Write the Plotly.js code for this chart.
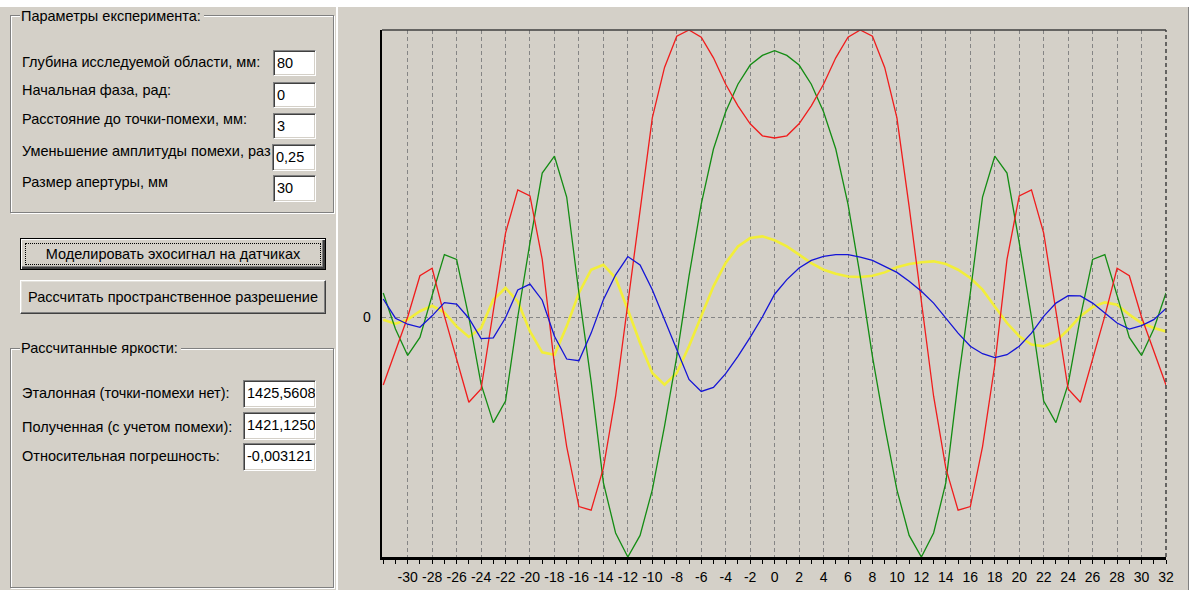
<!DOCTYPE html>
<html>
<head>
<meta charset="utf-8">
<script src="https://cdn.plot.ly/plotly-3.0.1.min.js"></script>
<style>
  html, body { margin: 0; padding: 0; }
  body { width: 1192px; height: 590px; background: #ffffff; position: relative; overflow: hidden;
         font-family: "Liberation Sans", Arial, sans-serif; font-size: 14.5px; color: #000; }
  .panel { position: absolute; background: #d4d0c8; }
  .abs { position: absolute; white-space: nowrap; line-height: 16px; }
  .group { position: absolute; border: 1px solid #808080; box-shadow: 1px 1px 0 #ffffff, inset 1px 1px 0 #ffffff; }
  .gtitle { position: absolute; background: #d4d0c8; padding: 0 3px 0 1px; line-height: 16px; white-space: nowrap; }
  .edit { position: absolute; background: #ffffff; box-sizing: border-box; border: 1px solid;
          border-color: #808080 #ffffff #ffffff #808080; box-shadow: inset 1px 1px 0 #404040, inset -1px -1px 0 #d4d0c8;
          padding: 4px 0 0 3px; line-height: 16px; white-space: nowrap; overflow: hidden; }
  .btn { position: absolute; box-sizing: border-box; background: #d4d0c8; border: 1px solid;
         border-color: #ffffff #404040 #404040 #ffffff; box-shadow: inset -1px -1px 0 #808080, inset 1px 1px 0 #e4e2dc;
         text-align: center; white-space: nowrap; }
  .btn.def { border: 1px solid #000; box-shadow: inset 1px 1px 0 #ffffff, inset -2px -2px 0 #404040, inset -3px -3px 0 #808080; }
  .focus { position: absolute; left: 4px; top: 4px; right: 4px; bottom: 4px; border: 1px dotted #000; }
</style>
</head>
<body>
<div class="panel" style="left:0; top:7px; width:336px; height:583px;"></div>
<div class="panel" style="left:338px; top:7px; width:850px; height:583px;"></div>
<div style="position:absolute; left:336px; top:7px; width:1px; height:583px; background:#ffffff;"></div>
<div style="position:absolute; left:1188px; top:7px; width:1px; height:583px; background:#808080;"></div>

<!-- experiment parameters -->
<div class="group" style="left:10px; top:15px; width:322px; height:196px;"></div>
<div class="gtitle" style="left:20px; top:8px;">Параметры експеримента:</div>
<div class="abs" style="left:22px; top:54px;">Глубина исследуемой области, мм:</div>
<div class="abs" style="left:22px; top:82px;">Начальная фаза, рад:</div>
<div class="abs" style="left:22px; top:111px;">Расстояние до точки-помехи, мм:</div>
<div class="abs" style="left:22px; top:143px;">Уменьшение амплитуды помехи, раз</div>
<div class="abs" style="left:22px; top:174px;">Размер апертуры, мм</div>
<div class="edit" style="left:273px; top:50px; width:43px; height:26px;">80</div>
<div class="edit" style="left:273px; top:82px; width:43px; height:26px;">0</div>
<div class="edit" style="left:273px; top:113px; width:43px; height:26px;">3</div>
<div class="edit" style="left:272px; top:144px; width:44px; height:27px;">0,25</div>
<div class="edit" style="left:273px; top:175px; width:43px; height:27px;">30</div>

<!-- commands -->
<div class="btn def" style="left:20px; top:238px; width:306px; height:32px; line-height:30px;"><div class="focus"></div>Моделировать эхосигнал на датчиках</div>
<div class="btn" style="left:20px; top:280px; width:306px; height:34px; line-height:32px;">Рассчитать пространственное разрешение</div>

<!-- computed brightness -->
<div class="group" style="left:10px; top:348px; width:322px; height:238px;"></div>
<div class="gtitle" style="left:20px; top:340px;">Рассчитанные яркости:</div>
<div class="abs" style="left:22px; top:385px;">Эталонная (точки-помехи нет):</div>
<div class="abs" style="left:22px; top:419px;">Полученная (с учетом помехи):</div>
<div class="abs" style="left:22px; top:448px;">Относительная погрешность:</div>
<div class="edit" style="left:243px; top:380px; width:73px; height:28px;">1425,5608</div>
<div class="edit" style="left:243px; top:412px; width:73px; height:28px;">1421,1250</div>
<div class="edit" style="left:243px; top:443px; width:73px; height:28px;">-0,003121</div>

<div id="chart" style="position:absolute; left:340px; top:7px; width:848px; height:583px;"></div>

<script>
// Sensor positions, mm
const sensorX = [-32,-31,-30,-29,-28,-27,-26,-25,-24,-23,-22,-21,-20,-19,-18,-17,-16,-15,-14,-13,-12,-11,-10,-9,-8,-7,-6,-5,-4,-3,-2,-1,
                 0,1,2,3,4,5,6,7,8,9,10,11,12,13,14,15,16,17,18,19,20,21,22,23,24,25,26,27,28,29,30,31,32];

// Echo signal components at each sensor (relative amplitude)
const redSignal = [-28.3,-14,0,17.2,20.3,0.5,-18,-35.5,-30,3,35,53,50.5,24,-20,-54,-79,-80.5,-63,-33,6,46,83,104,117,119.6,116.6,108,97,88,80.5,75.5,
                   74.6,75.5,80.5,88,97,108,116.6,119.6,117,104,83,46,6,-33,-63,-80.5,-79,-54,-20,24,50.5,53,35,3,-30,-35.5,-18,0.5,20.3,17.2,0,-14,-28.3];
const greenSignal = [10,-5,-16,-8.5,9,26,24,0,-28,-44,-35,0,31,60,67,50,10,-27,-69,-90,-100,-91,-72,-45.5,-16.5,17,47,70,85.5,97,105,109,
                     111,109,105,97,85.5,70,47,17,-16.5,-45.5,-72,-91,-100,-90,-69,-27,10,50,67,60,31,0,-35,-44,-28,0,24,26,9,-8.5,-16,-5,10];
const blueSignal = [7.5,-0.5,-3,-4.3,0.5,6,5.4,-0.5,-9,-8.7,-0.3,11.3,13.7,7,-8,-17.5,-18.2,-6.7,7.2,17.6,25.2,21.7,11.4,-1.1,-14.3,-26,-31,-29.3,-23.6,-16.4,-8.5,0,
                    9.5,15.6,20.4,23.6,25.3,26,26,25,23.6,21.1,18.6,14.9,10.7,5.8,-0.4,-6.7,-12.2,-15.3,-16.9,-15.7,-12.2,-6.7,0.3,5.8,8.9,8.8,5.8,1.7,-2.5,-5,-3.6,-1.1,3.6];
const yellowSignal = [-1.1,-2.8,-1.1,2.4,4.7,1.9,-3.9,-8.3,-4.6,7.2,12.1,6.5,-6,-14.7,-15.7,-3.9,10,19.7,21.8,16.25,3,-10.8,-23.3,-28.2,-23.3,-12.2,0.3,12.8,22.5,29.4,32.9,33.6,
                      32,29.4,26,22.5,19.7,18,16.9,16.7,17.2,18.6,20.7,22.1,22.8,23.2,22.1,19.7,16.25,11.4,4.4,-2.5,-8,-11.5,-12.2,-10.1,-5.3,0.3,4.2,6.1,5.1,1,-2.5,-4.6,-6];

// Axis tick labels (plain hyphen as the minus sign)
const xTickVals = [-30,-28,-26,-24,-22,-20,-18,-16,-14,-12,-10,-8,-6,-4,-2,0,2,4,6,8,10,12,14,16,18,20,22,24,26,28,30,32];
const xTickText = ['-30','-28','-26','-24','-22','-20','-18','-16','-14','-12','-10','-8','-6','-4','-2','0',
                   '2','4','6','8','10','12','14','16','18','20','22','24','26','28','30','32'];
const yTickVals = [0];
const yTickText = ['0'];

const traces = [
  { x: sensorX, y: yellowSignal, mode: 'lines', line: { color: '#f2ee3a', width: 2.6 } },
  { x: sensorX, y: greenSignal, mode: 'lines', line: { color: '#138c13', width: 1.3 } },
  { x: sensorX, y: redSignal, mode: 'lines', line: { color: '#f01c1c', width: 1.3 } },
  { x: sensorX, y: blueSignal, mode: 'lines', line: { color: '#1414d6', width: 1.3 } }
];

const layout = {
  width: 848, height: 583,
  margin: { l: 42, r: 22, t: 23, b: 33 },
  paper_bgcolor: '#d4d0c8', plot_bgcolor: '#d4d0c8',
  showlegend: false,
  font: { family: '"Liberation Sans", Arial, sans-serif', size: 14, color: '#000' },
  xaxis: {
    range: [-32.1, 32], tickmode: 'array', tickvals: xTickVals, ticktext: xTickText, tickangle: 0,
    ticks: 'outside', ticklen: 4, tickcolor: '#000', tickwidth: 1,
    showline: true, linecolor: '#000', linewidth: 2.5,
    showgrid: true, gridcolor: '#858585', griddash: '4px,3px', gridwidth: 1,
    zeroline: false, ticklabelstandoff: 2,
    minor: { tickmode: 'linear', tick0: 0, dtick: 1, ticks: 'outside', ticklen: 4, tickcolor: '#000', showgrid: false }
  },
  yaxis: {
    range: [-100, 119.6], tickmode: 'array', tickvals: yTickVals, ticktext: yTickText,
    ticks: '', showline: true, linecolor: '#000', linewidth: 2.5,
    showgrid: true, gridcolor: '#858585', griddash: '4px,3px', gridwidth: 1,
    zeroline: false, ticklabelstandoff: 6
  },
  shapes: [
    { type: 'line', xref: 'paper', yref: 'paper', x0: 0, x1: 1, y0: 1, y1: 1, line: { color: '#404040', width: 1.5 } },
    { type: 'line', xref: 'paper', yref: 'paper', x0: 1, x1: 1, y0: 0, y1: 1, line: { color: '#404040', width: 1.5, dash: '4px,3px' } }
  ]
};

Plotly.newPlot('chart', traces, layout, { staticPlot: true, displayModeBar: false });
</script>
</body>
</html>
